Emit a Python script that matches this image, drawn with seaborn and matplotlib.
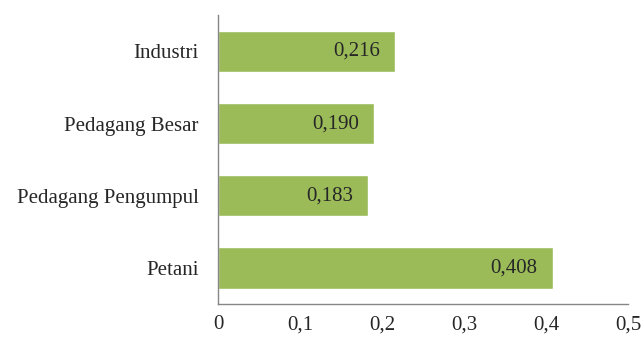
import pandas as pd
import seaborn as sns
import matplotlib.pyplot as plt
from matplotlib.ticker import FuncFormatter

categories = ["Industri", "Pedagang Besar", "Pedagang Pengumpul", "Petani"]
values = [0.216, 0.190, 0.183, 0.408]

df = pd.DataFrame({"kategori": categories, "nilai": values})

sns.set_style("white")
plt.rcParams['font.family'] = ['Liberation Serif', 'DejaVu Serif']

fig = plt.figure(figsize=(6.42, 3.38), dpi=100)
ax = fig.add_axes([0.34, 0.10, 0.638, 0.855])

sns.barplot(data=df, y="kategori", x="nilai", orient="h", color="#9BBB59",
            saturation=1, width=0.57, ax=ax)

# value labels inside bar ends
for i, v in enumerate(values):
    ax.annotate(f"{v:.3f}".replace(".", ","), (v, i), xytext=(-11, 0),
                textcoords="offset points", ha="right", va="center",
                fontsize=15, color="#262626")

ax.set_xlim(0, 0.5)
ax.set_ylim(3.5, -0.5)
ax.set_xticks([0, 0.1, 0.2, 0.3, 0.4, 0.5])
ax.xaxis.set_major_formatter(FuncFormatter(lambda x, p: "0" if x == 0 else f"{x:.1f}".replace(".", ",")))
ax.set_xlabel("")
ax.set_ylabel("")
ax.tick_params(axis="y", length=0, pad=14, labelsize=15, labelcolor="#262626")
ax.tick_params(axis="x", length=0, pad=8, labelsize=15, labelcolor="#262626")

sns.despine(ax=ax, top=True, right=True)
for s in ["left", "bottom"]:
    ax.spines[s].set_color("#868686")
    ax.spines[s].set_linewidth(1)

plt.savefig("out.png", dpi=100)
